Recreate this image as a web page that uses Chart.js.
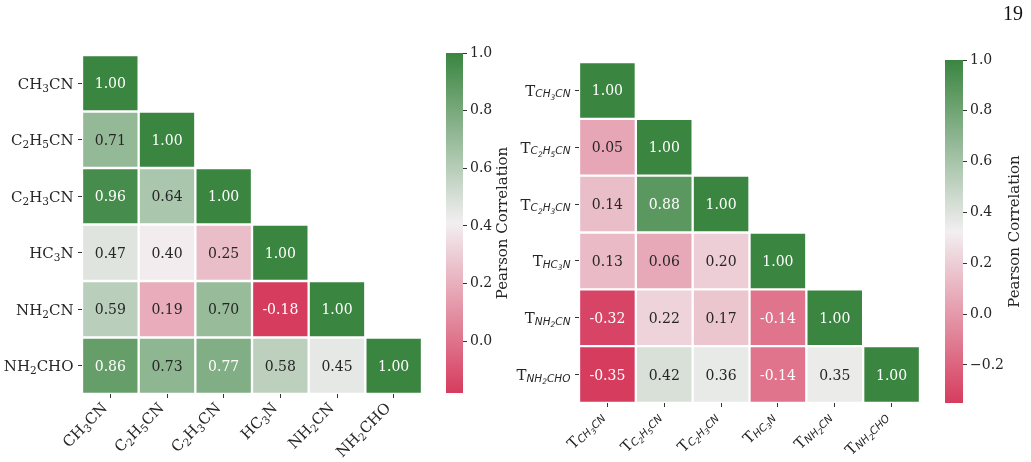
<!DOCTYPE html>
<html>
<head>
<meta charset="utf-8">
<script src="https://cdn.jsdelivr.net/npm/chart.js@4.4.1/dist/chart.umd.min.js"></script>
<style>
    html, body { margin: 0; padding: 0; background: #fff; }
    body { width: 1031px; height: 462px; position: relative; overflow: hidden; }
    .box { position: absolute; top: 0; height: 462px; }
    #pageNo { position: absolute; left: 1003px; top: 1px; font: 20px 'Liberation Serif', serif; color: #111; line-height: 24px; }
</style>
</head>
<body>
<div class="box" style="left:0;width:440px"><canvas id="heatAbund"></canvas></div>
<div class="box" style="left:440px;width:80px"><canvas id="cbarAbund"></canvas></div>
<div class="box" style="left:500px;width:440px"><canvas id="heatTemp"></canvas></div>
<div class="box" style="left:940px;width:91px"><canvas id="cbarTemp"></canvas></div>
<div id="pageNo">19</div>
<script>
// data (lower triangle, row by row)
var molecules = ['CH_3CN', 'C_2H_5CN', 'C_2H_3CN', 'HC_3N', 'NH_2CN', 'NH_2CHO'];
var abundRows = [
    [1.00],
    [0.71, 1.00],
    [0.96, 0.64, 1.00],
    [0.47, 0.40, 0.25, 1.00],
    [0.59, 0.19, 0.70, -0.18, 1.00],
    [0.86, 0.73, 0.77, 0.58, 0.45, 1.00]
];
var tempRows = [
    [1.00],
    [0.05, 1.00],
    [0.14, 0.88, 1.00],
    [0.13, 0.06, 0.20, 1.00],
    [-0.32, 0.22, 0.17, -0.14, 1.00],
    [-0.35, 0.42, 0.36, -0.14, 0.35, 1.00]
];
var abundTicks = [0.0, 0.2, 0.4, 0.6, 0.8, 1.0];
var tempTicks = [-0.2, 0.0, 0.2, 0.4, 0.6, 0.8, 1.0];
var cbarLabel = 'Pearson Correlation';

var colLow = [214, 60, 94];
var colMid = [242, 239, 241];
var colHigh = [58, 133, 64];
var DARK = '#262626';

var mix = function (a, b, t) {
    return a.map(function (v, k) { return Math.round(v + (b[k] - v) * t); });
};
var cmap = function (v, vmin, vmax) {
    var t = Math.max(0, Math.min(1, (v - vmin) / (vmax - vmin)));
    return t < 0.5 ? mix(colLow, colMid, t * 2) : mix(colMid, colHigh, (t - 0.5) * 2);
};
var rgb = function (c) { return 'rgb(' + c.join(',') + ')'; };
var textColor = function (c) {
    var lin = c.map(function (v) {
        v /= 255;
        return v <= 0.03928 ? v / 12.92 : Math.pow((v + 0.055) / 1.055, 2.4);
    });
    var lum = 0.2126 * lin[0] + 0.7152 * lin[1] + 0.0722 * lin[2];
    return lum > 0.408 ? DARK : '#ffffff';
};
var rangeOf = function (rows) {
    var all = [].concat.apply([], rows);
    return [Math.min.apply(null, all), Math.max.apply(null, all)];
};

// 'C_2H_5CN' -> pieces, '_' marks a one-char subscript
var parseFormula = function (f) {
    var parts = [];
    for (var i = 0; i < f.length; i++) {
        if (f[i] === '_') { parts.push({ t: f[i + 1], sub: true }); i++; }
        else if (parts.length && !parts[parts.length - 1].sub) parts[parts.length - 1].t += f[i];
        else parts.push({ t: f[i], sub: false });
    }
    return parts;
};
var plainLabel = function (f) {
    return parseFormula(f).map(function (p) {
        return p.sub ? { text: p.t, font: '10.5px "DejaVu Serif"', dy: 3 }
                     : { text: p.t, font: '15px "DejaVu Serif"', dy: 0 };
    });
};
var tempLabel = function (f) {
    return [{ text: 'T', font: '15px "DejaVu Serif"', dy: 0 }].concat(parseFormula(f).map(function (p) {
        return p.sub ? { text: p.t, font: 'italic 7.5px "DejaVu Sans"', dy: 4 }
                     : { text: p.t, font: 'italic 10.5px "DejaVu Sans"', dy: 1.5 };
    }));
};
var richWidth = function (ctx, segs) {
    var w = 0;
    segs.forEach(function (s) { ctx.font = s.font; w += ctx.measureText(s.text).width; });
    return w;
};
var drawRich = function (ctx, segs, x, y) {
    segs.forEach(function (s) {
        ctx.font = s.font;
        ctx.fillText(s.text, x, y + s.dy);
        x += ctx.measureText(s.text).width;
    });
};

var cellValues = {
    id: 'cellValues',
    afterDatasetsDraw: function (chart) {
        var ctx = chart.ctx;
        ctx.save();
        ctx.font = '14px "DejaVu Serif"';
        ctx.textAlign = 'center';
        ctx.textBaseline = 'alphabetic';
        chart.data.datasets.forEach(function (ds, i) {
            chart.getDatasetMeta(i).data.forEach(function (bar, j) {
                if (j > i) return;
                var p = bar.getProps(['x', 'y', 'base'], true);
                ctx.fillStyle = ds.textColors[j];
                ctx.fillText(ds.values[j].toFixed(2), p.x, (p.y + p.base) / 2 + 5);
            });
        });
        ctx.restore();
    }
};

var axisLabels = {
    id: 'axisLabels',
    afterDraw: function (chart, args, opts) {
        var ctx = chart.ctx, area = chart.chartArea;
        var xs = chart.scales.x, ys = chart.scales.y;
        ctx.save();
        ctx.fillStyle = DARK;
        ctx.textAlign = 'left';
        ctx.textBaseline = 'alphabetic';
        opts.labels.forEach(function (segs, i) {
            var w = richWidth(ctx, segs);
            drawRich(ctx, segs, area.left - 8.5 - w, ys.getPixelForValue(i + 0.5) + 5.5);
            ctx.save();
            ctx.translate(xs.getPixelForValue(i) - 10, area.bottom + 7);
            ctx.rotate(-Math.PI / 4);
            drawRich(ctx, segs, -w, 11);
            ctx.restore();
        });
        ctx.restore();
    }
};

var cbarTitle = {
    id: 'cbarTitle',
    afterDraw: function (chart, args, opts) {
        var ctx = chart.ctx, area = chart.chartArea, ys = chart.scales.y;
        ctx.save();
        ctx.font = '14px "DejaVu Serif"';
        var maxW = 0;
        ys.ticks.forEach(function (t) { maxW = Math.max(maxW, ctx.measureText(t.label).width); });
        ctx.font = '15px "DejaVu Serif"';
        ctx.translate(area.right + 7 + maxW + 11, (area.top + area.bottom) / 2);
        ctx.rotate(-Math.PI / 2);
        ctx.textAlign = 'center';
        ctx.textBaseline = 'middle';
        ctx.fillStyle = DARK;
        ctx.fillText(opts.text, 0, 0);
        ctx.restore();
    }
};

var tickGrid = { drawOnChartArea: false, drawTicks: true, tickLength: 4, color: '#333', lineWidth: 1 };

var makeHeatmap = function (id, rows, labels, g) {
    var range = rangeOf(rows);
    var datasets = rows.map(function (row, i) {
        var cols = molecules.map(function (m, j) { return j <= i ? cmap(row[j], range[0], range[1]) : null; });
        return {
            data: molecules.map(function (m, j) { return j <= i ? [i, i + 1] : null; }),
            backgroundColor: cols.map(function (c) { return c ? rgb(c) : 'rgba(0,0,0,0)'; }),
            textColors: cols.map(function (c) { return c ? textColor(c) : null; }),
            values: row,
            borderColor: '#ffffff',
            borderWidth: 1.5,
            borderSkipped: false,
            barPercentage: 1,
            categoryPercentage: 1,
            grouped: false
        };
    });
    return new Chart(document.getElementById(id), {
        type: 'bar',
        data: { labels: molecules, datasets: datasets },
        options: {
            responsive: true,
            maintainAspectRatio: false,
            animation: false,
            layout: { padding: { top: g.top, right: g.right, left: 0, bottom: 0 } },
            plugins: {
                legend: { display: false },
                tooltip: { enabled: false },
                axisLabels: { labels: labels }
            },
            scales: {
                x: {
                    type: 'category',
                    offset: true,
                    grid: Object.assign({ offset: false }, tickGrid),
                    border: { display: false },
                    ticks: { display: false },
                    afterFit: function (s) { s.height = g.bottom; }
                },
                y: {
                    type: 'linear',
                    min: 0,
                    max: molecules.length,
                    reverse: true,
                    grid: tickGrid,
                    border: { display: false },
                    ticks: { display: false },
                    afterBuildTicks: function (s) {
                        s.ticks = molecules.map(function (m, i) { return { value: i + 0.5 }; });
                    },
                    afterFit: function (s) { s.width = g.left; }
                }
            }
        },
        plugins: [cellValues, axisLabels]
    });
};

var makeColorbar = function (id, rows, ticks, g) {
    var range = rangeOf(rows), vmin = range[0], vmax = range[1];
    return new Chart(document.getElementById(id), {
        type: 'bar',
        data: {
            labels: [''],
            datasets: [{
                data: [[vmin, vmax]],
                barPercentage: 1,
                categoryPercentage: 1,
                borderWidth: 0,
                backgroundColor: function (c) {
                    var chart = c.chart, ys = chart.scales.y;
                    if (!chart.chartArea || !ys) return 'rgba(0,0,0,0)';
                    var grad = chart.ctx.createLinearGradient(0, ys.getPixelForValue(vmin), 0, ys.getPixelForValue(vmax));
                    for (var k = 0; k <= 20; k++) {
                        grad.addColorStop(k / 20, rgb(cmap(vmin + (vmax - vmin) * k / 20, vmin, vmax)));
                    }
                    return grad;
                }
            }]
        },
        options: {
            responsive: true,
            maintainAspectRatio: false,
            animation: false,
            layout: { padding: { top: g.top, bottom: g.bottom, left: g.left, right: 0 } },
            plugins: {
                legend: { display: false },
                tooltip: { enabled: false },
                cbarTitle: { text: cbarLabel }
            },
            scales: {
                x: { display: false },
                y: {
                    position: 'right',
                    min: vmin,
                    max: vmax,
                    grid: tickGrid,
                    border: { display: false },
                    ticks: {
                        padding: 3,
                        color: DARK,
                        font: { family: 'DejaVu Serif', size: 14 },
                        callback: function (v) { return (v < -1e-9 ? '\u2212' : '') + Math.abs(v).toFixed(1); }
                    },
                    afterBuildTicks: function (s) {
                        s.ticks = ticks.map(function (v) { return { value: v }; });
                    },
                    afterFit: function (s) { s.width = g.axis; }
                }
            }
        },
        plugins: [cbarTitle]
    });
};

makeHeatmap('heatAbund', abundRows, molecules.map(plainLabel), { left: 82, top: 55, right: 18, bottom: 68 });
makeColorbar('cbarAbund', abundRows, abundTicks, { left: 6, axis: 57, top: 53, bottom: 69 });
makeHeatmap('heatTemp', tempRows, molecules.map(tempLabel), { left: 79, top: 62, right: 20, bottom: 59 });
makeColorbar('cbarTemp', tempRows, tempTicks, { left: 5, axis: 68, top: 60, bottom: 59 });
</script>
</body>
</html>
